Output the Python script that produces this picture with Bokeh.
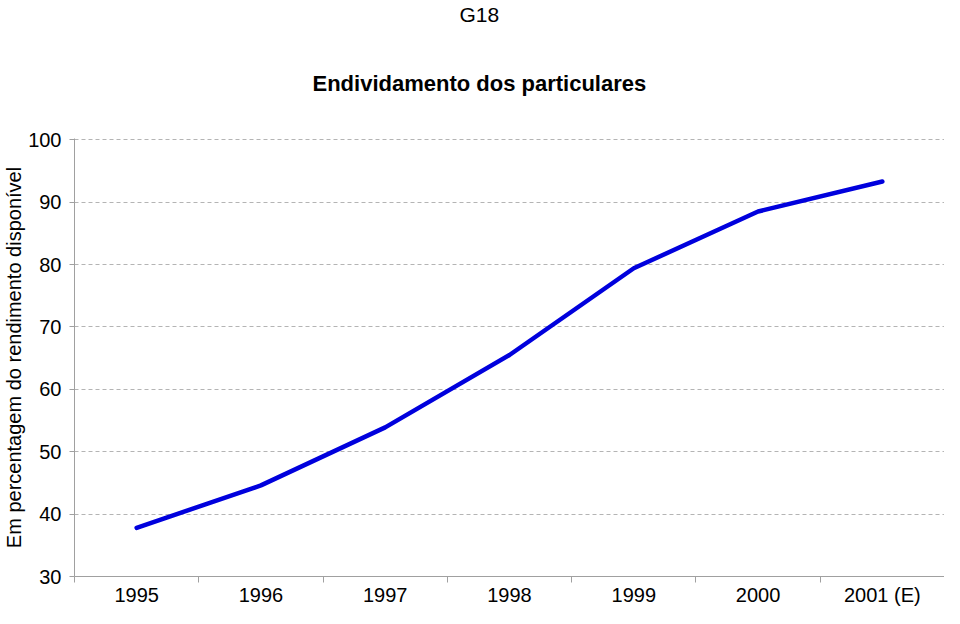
from bokeh.plotting import figure
from bokeh.models import FixedTicker, Title, Range1d
from bokeh.embed import file_html
from bokeh.resources import INLINE

# Data
years = ["1995", "1996", "1997", "1998", "1999", "2000", "2001 (E)"]
debt_pct = [37.8, 44.6, 53.9, 65.5, 79.4, 88.5, 93.3]
y_ticks = [30, 40, 50, 60, 70, 80, 90, 100]

FONT = "Liberation Sans"

x_pos = list(range(len(years)))

p = figure(width=944, height=608, output_backend="svg", toolbar_location=None,
           x_range=Range1d(-0.5, len(years) - 0.5), y_range=Range1d(30, 100.2),
           min_border_left=0, min_border_right=0, min_border_bottom=0, min_border_top=0)
p.outline_line_color = None
p.background_fill_color = "white"
p.border_fill_color = "white"

p.line(x_pos, debt_pct, line_color="#0000DD", line_width=4.5, line_cap="round", line_join="round")

# x axis
p.xaxis.ticker = FixedTicker(ticks=x_pos, minor_ticks=[i - 0.5 for i in range(len(years) + 1)])
p.xaxis.major_label_overrides = {i: y for i, y in enumerate(years)}
p.xaxis.major_tick_out = 0
p.xaxis.major_tick_in = 0
p.xaxis.minor_tick_out = 6
p.xaxis.minor_tick_in = 0
p.xaxis.minor_tick_line_color = "#A0A0A0"
p.xaxis.axis_line_color = "#A0A0A0"
p.xaxis.major_label_text_font = FONT
p.xaxis.major_label_text_font_size = "20px"
p.xaxis.major_label_text_color = "black"
p.xaxis.major_label_standoff = 1
p.xaxis.major_label_text_line_height = 0.9

# y axis
p.yaxis.ticker = FixedTicker(ticks=y_ticks)
p.yaxis.major_tick_out = 5
p.yaxis.major_tick_in = 0
p.yaxis.minor_tick_line_color = None
p.yaxis.major_tick_line_color = "#A0A0A0"
p.yaxis.axis_line_color = "#A0A0A0"
p.yaxis.major_label_text_font = FONT
p.yaxis.major_label_text_font_size = "20px"
p.yaxis.major_label_text_color = "black"
p.yaxis.major_label_standoff = 8
p.yaxis.axis_label = "Em percentagem do rendimento disponível"
p.yaxis.axis_label_text_font = FONT
p.yaxis.axis_label_text_font_size = "20px"
p.yaxis.axis_label_text_font_style = "normal"
p.yaxis.axis_label_text_color = "black"
p.yaxis.axis_label_standoff = 0

p.xgrid.grid_line_color = None
p.ygrid.grid_line_color = "#B4B4B4"
p.ygrid.grid_line_dash = "4 3"
p.ygrid.grid_line_width = 1

# Titles (first added = closest to plot)
spacer = Title(text=" ", text_font_size="1px", standoff=16, text_alpha=0)
p.add_layout(spacer, "above")
t1 = Title(text="Endividamento dos particulares", text_font=FONT, text_font_size="22px",
           text_font_style="bold", text_color="black", align="left", offset=238, standoff=86)
p.add_layout(t1, "above")
t0 = Title(text="G18", text_font=FONT, text_font_size="21px", text_font_style="normal",
           text_color="black", align="left", offset=385, standoff=0)
p.add_layout(t0, "above")

open("out.html", "w").write(file_html(p, INLINE))
